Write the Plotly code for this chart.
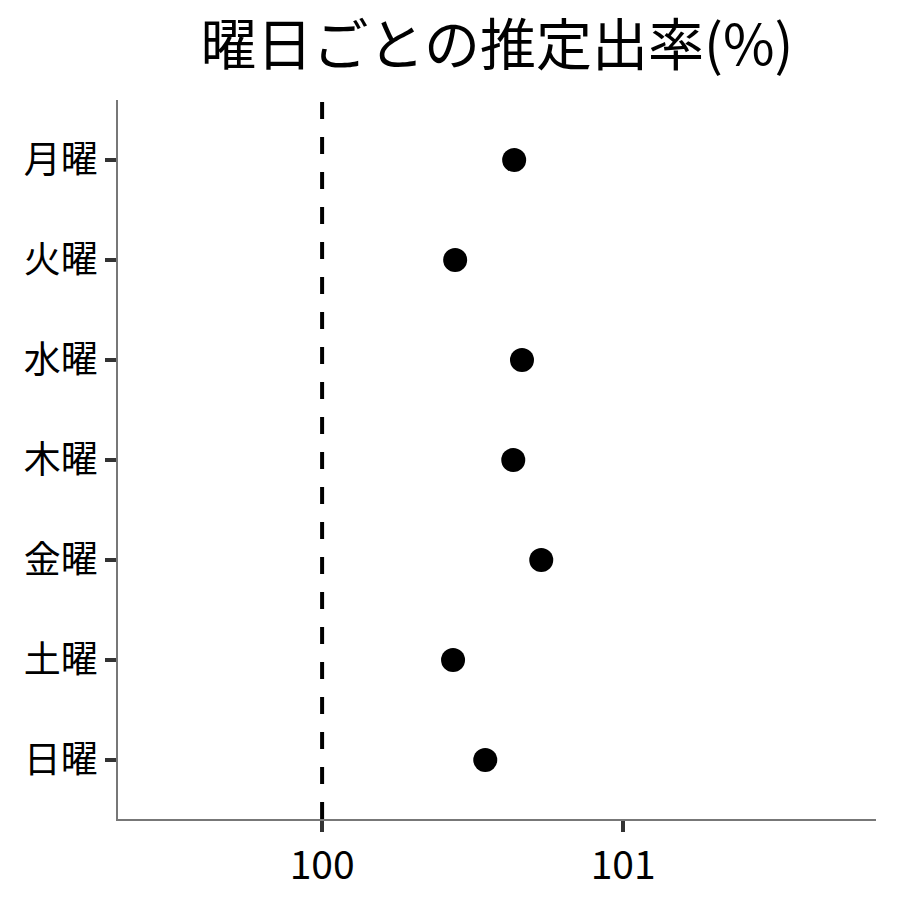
import plotly.graph_objects as go

days = ["月曜", "火曜", "水曜", "木曜", "金曜", "土曜", "日曜"]
rates = [100.638, 100.442, 100.664, 100.635, 100.728, 100.435, 100.542]
ref_value = 100
x_ticks = [100, 101]
title_text = "曜日ごとの推定出率(%)"

font_family = "Noto Sans CJK JP"

fig = go.Figure()
fig.add_trace(go.Scatter(
    x=rates, y=days, mode="markers",
    marker=dict(color="black", size=24, line=dict(width=0)),
    showlegend=False,
))
fig.add_shape(type="line", x0=ref_value, x1=ref_value, xref="x",
              y0=0, y1=1, yref="paper",
              line=dict(color="black", width=4, dash="17px,18px"))

fig.update_layout(
    width=900, height=900,
    paper_bgcolor="white", plot_bgcolor="white",
    margin=dict(l=110, r=32, t=92, b=89),
    title=dict(text=title_text, x=(110 + 868) / 2 / 900, xanchor="center",
               y=1 - 37 / 900, yanchor="middle",
               font=dict(family=font_family, size=56, color="black")),
    font=dict(family=font_family, color="black"),
    xaxis=dict(range=[99.322, 101.84], tickvals=x_ticks,
               ticktext=[str(v) for v in x_ticks],
               showgrid=False, zeroline=False,
               showline=True, linecolor="#777777", linewidth=1.5,
               ticks="outside", ticklen=11, tickwidth=3.5, tickcolor="#333333",
               tickfont=dict(size=39, color="black", family=font_family)),
    yaxis=dict(categoryorder="array", categoryarray=days[::-1],
               range=[-0.59, 6.6],
               showgrid=False, zeroline=False,
               showline=True, linecolor="#777777", linewidth=1.5,
               ticks="outside", ticklen=11, tickwidth=3.5, tickcolor="#333333",
               tickfont=dict(size=37, color="black", family=font_family)),
)

fig.write_html("out.html")
